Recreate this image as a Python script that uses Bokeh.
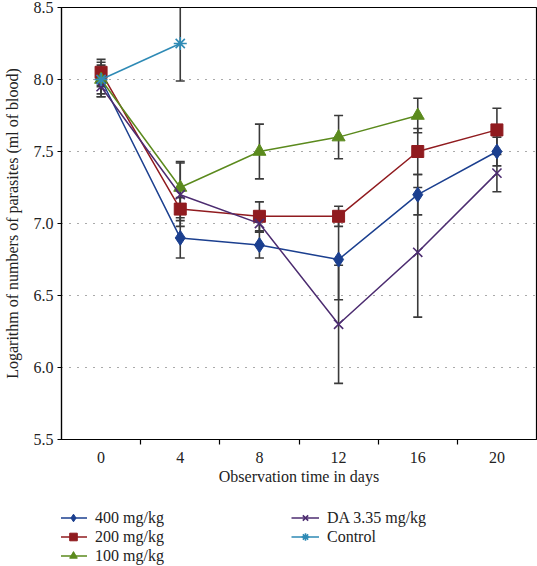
from bokeh.plotting import figure
from bokeh.layouts import column
from bokeh.models import (ColumnDataSource, Whisker, TeeHead, FixedTicker, Legend,
                          LegendItem, Range1d)
from bokeh.embed import file_html
from bokeh.resources import INLINE

# ---- data ----
days = [0, 4, 8, 12, 16, 20]
tick_days = [0, 4, 8, 12, 16, 20]
y_ticks = [5.5, 6.0, 6.5, 7.0, 7.5, 8.0, 8.5]

mg400 = [8.0, 6.9, 6.85, 6.75, 7.2, 7.5]
mg400_err = [0.10, 0.14, 0.09, 0.28, 0.14, 0.10]

mg200 = [8.05, 7.1, 7.05, 7.05, 7.5, 7.65]
mg200_err = [0.09, 0.08, 0.10, 0.07, 0.16, 0.15]

days100 = [0, 4, 8, 12, 16]
mg100 = [8.0, 7.25, 7.5, 7.6, 7.75]
mg100_err = [0.12, 0.18, 0.19, 0.15, 0.12]

da = [7.95, 7.2, 7.0, 6.3, 6.8, 7.35]
da_err = [0.07, 0.22, 0.06, 0.41, 0.45, 0.13]

days_ctrl = [0, 4]
ctrl = [8.0, 8.25]
ctrl_err = [0.05, 0.26]

FONT = "Liberation Serif"
ERR = "#3a3a3a"

p = figure(width=537, height=487, x_range=Range1d(-2, 22), y_range=Range1d(5.5, 8.5),
           output_backend="svg", toolbar_location=None,
           min_border_top=7, min_border_left=60, min_border_right=1, min_border_bottom=10)

p.outline_line_color = "black"
p.outline_line_width = 1.2
p.background_fill_color = "white"
p.border_fill_color = "white"

# axes
xa = p.xaxis[0]
xa.ticker = FixedTicker(ticks=tick_days, minor_ticks=[2, 6, 10, 14, 18])
xa.major_tick_line_color = None
xa.major_tick_out = 0
xa.major_tick_in = 0
xa.minor_tick_out = 5
xa.minor_tick_in = 0
xa.minor_tick_line_color = "black"
xa.minor_tick_line_width = 1.2
xa.major_label_standoff = 7
xa.axis_label = "Observation time in days"
xa.axis_label_standoff = 2

ya = p.yaxis[0]
ya.ticker = FixedTicker(ticks=y_ticks)
ya.major_label_overrides = {t: f"{t:.1f}" for t in y_ticks}
ya.major_tick_out = 4
ya.major_tick_in = 0
ya.minor_tick_line_color = None
ya.major_label_standoff = 4
ya.axis_label = "Logarithm of numbers of parasites (ml of blood)"
ya.axis_label_standoff = 10

for ax in (xa, ya):
    ax.axis_line_color = "black"
    ax.axis_line_width = 1.2
    ax.major_tick_line_width = 1.2
    ax.major_label_text_font = FONT
    ax.major_label_text_font_size = "16px"
    ax.major_label_text_color = "#222222"
    ax.axis_label_text_font = FONT
    ax.axis_label_text_font_size = "16px"
    ax.axis_label_text_font_style = "normal"
    ax.axis_label_text_color = "#222222"

p.xgrid.visible = False
p.ygrid.ticker = FixedTicker(ticks=[6.0, 6.5, 7.0, 7.5, 8.0])
p.ygrid.grid_line_color = "#555555"
p.ygrid.grid_line_dash = "1 7"
p.ygrid.grid_line_width = 1.2

series = [
    ("400 mg/kg", days, mg400, mg400_err, "#1b3f8f", "diamond", 15),
    ("200 mg/kg", days, mg200, mg200_err, "#901b1f", "square", 12),
    ("100 mg/kg", days100, mg100, mg100_err, "#5b8a1d", "triangle", 13),
    ("DA 3.35 mg/kg", days, da, da_err, "#4c2c70", "x", 13),
    ("Control", days_ctrl, ctrl, ctrl_err, "#2e8ab5", "asterisk", 13),
]

# error bars first
for name, xs, ys, es, col, mk, sz in series:
    src = ColumnDataSource(dict(x=xs, y=ys,
                                upper=[a + b for a, b in zip(ys, es)],
                                lower=[a - b for a, b in zip(ys, es)]))
    w = Whisker(source=src, base="x", upper="upper", lower="lower",
                line_color=ERR, line_width=1.6,
                upper_head=TeeHead(size=9, line_color=ERR, line_width=1.6),
                lower_head=TeeHead(size=9, line_color=ERR, line_width=1.6))
    p.add_layout(w)


def draw(fig, src, col, mk, sz, lw=1.5):
    lr = fig.line("x", "y", source=src, line_color=col, line_width=lw)
    if mk in ("x", "asterisk"):
        sr = fig.scatter("x", "y", source=src, marker=mk, size=sz,
                         line_color=col, line_width=1.6, fill_color=None)
    else:
        sr = fig.scatter("x", "y", source=src, marker=mk, size=sz,
                         line_color=col, fill_color=col)
    return lr, sr


for name, xs, ys, es, col, mk, sz in series:
    draw(p, ColumnDataSource(dict(x=xs, y=ys)), col, mk, sz)

# ---- legend panel (separate figure holding only the legend) ----
lf = figure(width=537, height=79, x_range=Range1d(0, 1), y_range=Range1d(0, 1),
            output_backend="svg", toolbar_location=None,
            x_axis_location=None, y_axis_location=None, min_border=0)
lf.grid.visible = False
lf.outline_line_color = None

items = []
for name, xs, ys, es, col, mk, sz in series:
    # off-screen proxy point: only used to draw the legend swatch
    proxy = ColumnDataSource(dict(x=[-5], y=[-5]))
    lr, sr = draw(lf, proxy, col, mk, sz)
    items.append(LegendItem(label=name, renderers=[lr, sr]))

legend = Legend(items=items, nrows=3, orientation="vertical",
                location=(-2, 1), margin=0, padding=0, spacing=0,
                glyph_width=28, glyph_height=19, label_height=19,
                label_width=196, label_standoff=8,
                label_text_font=FONT, label_text_font_size="16px",
                label_text_color="#222222",
                border_line_color=None, background_fill_alpha=0)
lf.add_layout(legend)

layout = column(p, lf, spacing=0)
open("out.html", "w").write(file_html(layout, INLINE))
